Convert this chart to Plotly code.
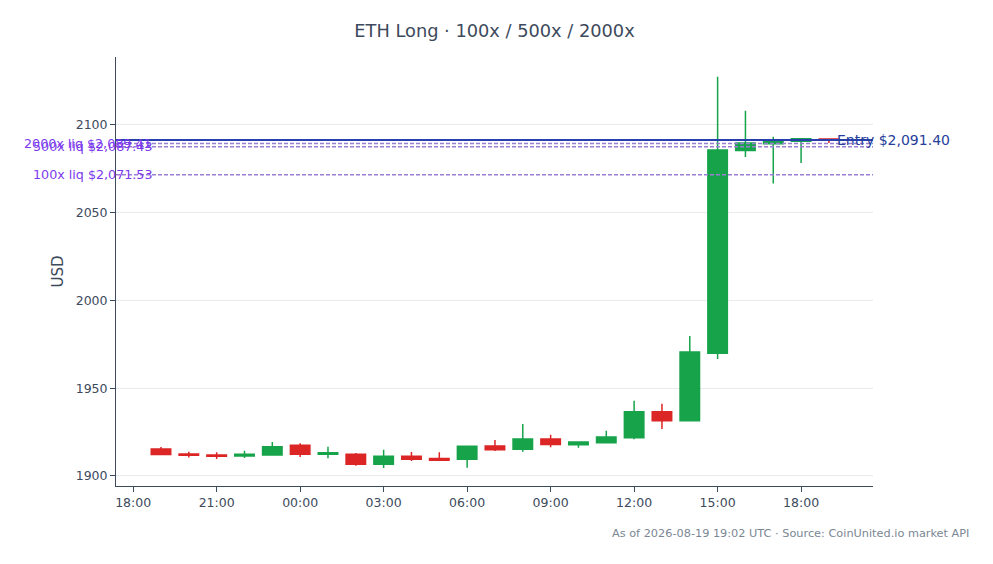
import plotly.graph_objects as go

times = [
    "2026-08-18 19:00", "2026-08-18 20:00", "2026-08-18 21:00", "2026-08-18 22:00",
    "2026-08-18 23:00", "2026-08-19 00:00", "2026-08-19 01:00", "2026-08-19 02:00",
    "2026-08-19 03:00", "2026-08-19 04:00", "2026-08-19 05:00", "2026-08-19 06:00",
    "2026-08-19 07:00", "2026-08-19 08:00", "2026-08-19 09:00", "2026-08-19 10:00",
    "2026-08-19 11:00", "2026-08-19 12:00", "2026-08-19 13:00", "2026-08-19 14:00",
    "2026-08-19 15:00", "2026-08-19 16:00", "2026-08-19 17:00", "2026-08-19 18:00",
    "2026-08-19 19:00",
]
open_ = [1915.3, 1912.5, 1912.0, 1911.4, 1912.0, 1917.5, 1912.4, 1912.4,
         1906.7, 1911.2, 1909.9, 1909.5, 1917.1, 1915.2, 1921.1, 1917.8,
         1919.0, 1921.8, 1936.6, 1931.5, 1969.9, 2085.3, 2089.2, 2090.6,
         2091.9]
high = [1916.5, 1913.8, 1913.5, 1914.4, 1919.4, 1918.6, 1916.7, 1913.1,
        1915.0, 1913.7, 1913.5, 1917.0, 1920.5, 1929.6, 1923.5, 1919.5,
        1925.8, 1942.9, 1941.2, 1979.7, 2127.4, 2108.0, 2093.2, 2092.3,
        2092.4]
low = [1911.9, 1910.6, 1909.7, 1910.3, 1911.8, 1910.8, 1910.1, 1905.9,
       1904.6, 1908.5, 1908.9, 1904.7, 1914.2, 1913.8, 1916.3, 1916.1,
       1919.0, 1920.9, 1926.8, 1931.5, 1966.6, 2081.7, 2066.5, 2078.2,
       2089.6]
close = [1912.3, 1911.8, 1911.2, 1912.4, 1916.7, 1912.4, 1913.3, 1906.7,
         1911.2, 1909.5, 1908.9, 1916.9, 1915.0, 1921.1, 1918.0, 1919.4,
         1922.2, 1936.6, 1931.5, 1970.6, 2085.6, 2089.6, 2091.0, 2092.1,
         2091.4]

entry_price = 2091.40
liq_labels = ["2000x liq", "500x liq", "100x liq"]
liq_prices = [2089.41, 2087.43, 2071.53]

x_range = ["2026-08-18 17:23", "2026-08-19 20:35"]
y_range = [1894.3, 2138.6]

FONT = "DejaVu Sans"

fig = go.Figure()
fig.add_trace(go.Candlestick(
    x=times, open=open_, high=high, low=low, close=close,
    increasing=dict(line=dict(color="#16a34a", width=1.5), fillcolor="#16a34a"),
    decreasing=dict(line=dict(color="#dc2626", width=1.5), fillcolor="#dc2626"),
    showlegend=False, name="ETH",
))

for lab, p in zip(liq_labels, liq_prices):
    fig.add_hline(y=p, line=dict(color="#9a7fd4", width=1.5, dash="4px,2px"))
    fig.add_annotation(x=times[0], y=p, xref="x", yref="y",
                       text=f"{lab} ${p:,.2f}", showarrow=False,
                       xanchor="right", yanchor="middle", xshift=-7,
                       font=dict(family=FONT, size=12.7, color="#7c3aed"))

fig.add_hline(y=entry_price, line=dict(color="#2a3fae", width=2))
fig.add_annotation(x=times[-1], y=entry_price, xref="x", yref="y",
                   text=f"Entry ${entry_price:,.2f}", showarrow=False,
                   xanchor="left", yanchor="middle", xshift=6,
                   font=dict(family=FONT, size=14, color="#27409a"))

fig.add_annotation(x=1.13, y=-0.11, xref="paper", yref="paper",
                   text="As of 2026-08-19 19:02 UTC · Source: CoinUnited.io market API",
                   showarrow=False, xanchor="right", yanchor="middle",
                   font=dict(family=FONT, size=11.3, color="#7b8794"))

fig.update_layout(
    width=993, height=564,
    margin=dict(l=108, r=128, t=49, b=86),
    paper_bgcolor="white", plot_bgcolor="white",
    boxgap=0.3, boxgroupgap=0,
    font=dict(family=FONT, size=12, color="#3d4a5c"),
    title=dict(text="ETH Long · 100x / 500x / 2000x", x=0.5, xref="paper", xanchor="center",
               y=0.959, yanchor="middle",
               font=dict(family=FONT, size=17.8, color="#3d4a5c")),
    xaxis=dict(type="date", range=x_range, rangeslider=dict(visible=False),
               tickformat="%H:%M", dtick=3 * 3600 * 1000,
               tick0="2026-08-18 18:00",
               showgrid=False, showline=True, linecolor="#3d4a5c", linewidth=1,
               ticks="outside", ticklen=5, tickcolor="#3d4a5c",
               tickfont=dict(family=FONT, size=12.5, color="#3d4a5c"),
               zeroline=False),
    yaxis=dict(range=y_range,
               title=dict(text="USD", standoff=8,
                          font=dict(family=FONT, size=15, color="#3d4a5c")),
               showgrid=True, gridcolor="#e8eaee", gridwidth=1,
               showline=True, linecolor="#3d4a5c", linewidth=1,
               ticks="outside", ticklen=5, tickcolor="#3d4a5c",
               tickvals=[1900, 1950, 2000, 2050, 2100],
               tickfont=dict(family=FONT, size=12.5, color="#3d4a5c"),
               zeroline=False),
)

fig.write_html("out.html")
